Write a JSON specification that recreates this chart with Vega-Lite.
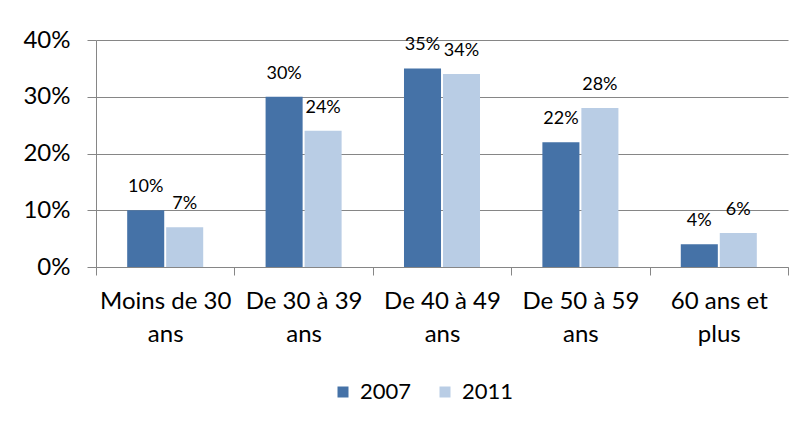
{
  "$schema": "https://vega.github.io/schema/vega-lite/v6.json",
  "autosize": {"type": "none"},
  "width": 692,
  "height": 227,
  "padding": {"left": 96, "top": 40, "right": 19, "bottom": 156},
  "background": "white",
  "config": {
    "font": "Lato",
    "view": {"stroke": null},
    "axis": {"labelFont": "Lato", "labelColor": "#000000"}
  },
  "data": {
    "values": [
      {"age": "Moins de 30 ans", "annee": "2007", "part": 0.10},
      {"age": "Moins de 30 ans", "annee": "2011", "part": 0.07},
      {"age": "De 30 à 39 ans", "annee": "2007", "part": 0.30},
      {"age": "De 30 à 39 ans", "annee": "2011", "part": 0.24},
      {"age": "De 40 à 49 ans", "annee": "2007", "part": 0.35},
      {"age": "De 40 à 49 ans", "annee": "2011", "part": 0.34},
      {"age": "De 50 à 59 ans", "annee": "2007", "part": 0.22},
      {"age": "De 50 à 59 ans", "annee": "2011", "part": 0.28},
      {"age": "60 ans et plus", "annee": "2007", "part": 0.04},
      {"age": "60 ans et plus", "annee": "2011", "part": 0.06}
    ]
  },
  "encoding": {
    "x": {
      "field": "age", "type": "nominal", "sort": null,
      "scale": {"paddingInner": 0, "paddingOuter": 0},
      "axis": {
        "title": null,
        "labelAngle": 0,
        "labelFontSize": 24,
        "labelLineHeight": 33,
        "labelPadding": 14,
        "labelExpr": "[slice(datum.label, 0, lastindexof(datum.label, ' ')), slice(datum.label, lastindexof(datum.label, ' ') + 1)]",
        "tickBand": "extent",
        "tickSize": 8,
        "tickColor": "#868686",
        "domainColor": "#868686",
        "grid": false
      }
    },
    "xOffset": {
      "field": "annee", "type": "nominal",
      "scale": {"paddingInner": 0.05, "paddingOuter": 0.8}
    },
    "y": {
      "field": "part", "type": "quantitative",
      "scale": {"domain": [0, 0.4]},
      "axis": {
        "title": null,
        "values": [0, 0.1, 0.2, 0.3, 0.4],
        "format": ".0%",
        "labelFontSize": 24,
        "labelPadding": 17,
        "tickSize": 9,
        "tickColor": "#868686",
        "domainColor": "#868686",
        "gridColor": "#868686"
      }
    }
  },
  "layer": [
    {
      "mark": {"type": "bar"},
      "encoding": {
        "color": {
          "field": "annee", "type": "nominal",
          "scale": {"domain": ["2007", "2011"], "range": ["#4572A7", "#B9CDE5"]},
          "legend": {
            "title": null,
            "orient": "none",
            "direction": "horizontal",
            "legendX": 236,
            "legendY": 341,
            "symbolType": "square",
            "symbolSize": 121,
            "symbolStrokeWidth": 0,
            "labelFontSize": 22,
            "labelFont": "Lato",
            "labelColor": "#000000",
            "labelOffset": 6,
            "columnPadding": 22
          }
        }
      }
    },
    {
      "mark": {"type": "text", "baseline": "middle", "dy": -23, "fontSize": 18, "color": "#000000"},
      "encoding": {
        "text": {"field": "part", "type": "quantitative", "format": ".0%"}
      }
    }
  ]
}
